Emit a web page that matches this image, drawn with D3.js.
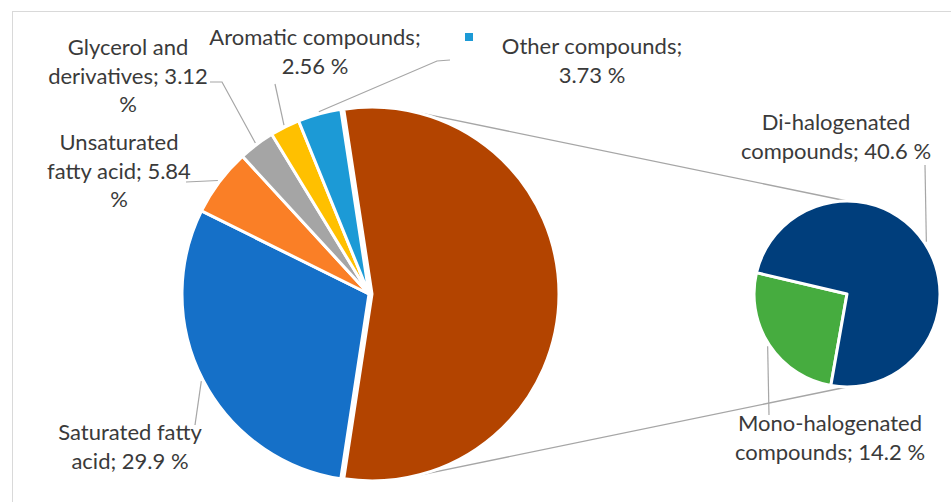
<!DOCTYPE html>
<html>
<head>
<meta charset="utf-8">
<script src="https://cdn.jsdelivr.net/npm/d3@7"></script>
<style>
  html, body { margin: 0; padding: 0; background: #fff; }
  svg { display: block; }
  text { font-family: Lato, "Open Sans", sans-serif; fill: #3A3A3A; }
</style>
</head>
<body>
<svg id="chart" width="951" height="502"></svg>
<script>
// Primary pie: compound classes (percent)
const mainCategories = ["Saturated fatty acid", "Unsaturated fatty acid", "Glycerol and derivatives", "Aromatic compounds", "Other compounds"];
const mainValues = [29.9, 5.84, 3.12, 2.56, 3.73];
const mainColors = ["#1570C8", "#FA7F26", "#A5A5A5", "#FFC000", "#1C9AD6"];

// Secondary pie: breakdown of halogenated compounds (percent)
const subCategories = ["Mono-halogenated compounds", "Di-halogenated compounds"];
const subValues = [14.2, 40.6];
const subColors = ["#46AC3F", "#003E7C"];

const groupColor = "#B34400";

// Words per line for each data label, and where each label sits
const labelLayout = [
  { name: "Saturated fatty acid",       x: 130, y: 440, breaks: [2, 3],    leader: [[195, 425]] },
  { name: "Unsaturated fatty acid",     x: 119, y: 150, breaks: [1, 3, 1], leader: [[186, 182]] },
  { name: "Glycerol and derivatives",   x: 128, y: 55,  breaks: [2, 2, 1], leader: [[222, 82], [210, 82]] },
  { name: "Aromatic compounds",         x: 315, y: 45,  breaks: [2, 2],    leader: [[275, 84]] },
  { name: "Other compounds",            x: 592, y: 54,  breaks: [2, 2],    leader: [[437, 61], [450, 60]], key: true },
  { name: "Mono-halogenated compounds", x: 830, y: 431, breaks: [1, 3],    leader: [[769, 415]] },
  { name: "Di-halogenated compounds",   x: 836, y: 130, breaks: [1, 3],    leader: [[925, 165]] }
];

const svg = d3.select("#chart");
const W = 951, H = 502;

// chart-area frame
svg.append("rect")
  .attr("x", 12.5).attr("y", 11.5)
  .attr("width", W + 10).attr("height", H + 10)
  .attr("fill", "#fff").attr("stroke", "#D9D9D9").attr("stroke-width", 1);

const main = { cx: 369, cy: 294, r: 187 };
const sub  = { cx: 847, cy: 294, r: 93 };
const groupExplode = 3;

const groupValue = d3.sum(subValues);
const total = d3.sum(mainValues) + groupValue;
const groupFrac = groupValue / total;

// The grouped slice is centred on the right-hand side, facing the secondary pie
const mainData = mainCategories.map((c, i) => ({ name: c, value: mainValues[i], color: mainColors[i], group: false }))
  .concat([{ name: "Halogenated compounds", value: groupValue, color: groupColor, group: true }]);
const mainStart = Math.PI / 2 + Math.PI * groupFrac;
const mainArcs = d3.pie().sort(null).value(d => d.value)
  .startAngle(mainStart).endAngle(mainStart + 2 * Math.PI)(mainData);

const subData = subCategories.map((c, i) => ({ name: c, value: subValues[i], color: subColors[i] }));
const subStart = 190 * Math.PI / 180;
const subArcs = d3.pie().sort(null).value(d => d.value)
  .startAngle(subStart).endAngle(subStart + 2 * Math.PI)(subData);

// Series lines: tangents from the top/bottom of the secondary pie to the primary pie
function tangentPoint(px, py, sign) {
  const cx = main.cx + groupExplode;
  const dx = px - cx, dy = py - main.cy;
  const d = Math.hypot(dx, dy);
  const base = Math.atan2(dy, dx);
  const a = base + sign * Math.acos(main.r / d);
  return [cx + main.r * Math.cos(a), main.cy + main.r * Math.sin(a)];
}
const seriesLines = [
  [[sub.cx, sub.cy - sub.r], -1],
  [[sub.cx, sub.cy + sub.r], 1]
];
svg.append("g").selectAll("line").data(seriesLines).join("line")
  .attr("x1", d => tangentPoint(d[0][0], d[0][1], d[1])[0])
  .attr("y1", d => tangentPoint(d[0][0], d[0][1], d[1])[1])
  .attr("x2", d => d[0][0]).attr("y2", d => d[0][1])
  .attr("stroke", "#A6A6A6").attr("stroke-width", 1.3);

const mainArc = d3.arc().innerRadius(0).outerRadius(main.r);
const subArc = d3.arc().innerRadius(0).outerRadius(sub.r);

svg.append("g").attr("transform", `translate(${main.cx},${main.cy})`)
  .selectAll("path").data(mainArcs).join("path")
  .attr("transform", d => {
    if (!d.data.group) return null;
    const m = (d.startAngle + d.endAngle) / 2;
    return `translate(${groupExplode * Math.sin(m)},${-groupExplode * Math.cos(m)})`;
  })
  .attr("d", mainArc).attr("fill", d => d.data.color)
  .attr("stroke", "#fff").attr("stroke-width", 3).attr("stroke-linejoin", "round");

svg.append("g").attr("transform", `translate(${sub.cx},${sub.cy})`)
  .selectAll("path").data(subArcs).join("path")
  .attr("d", subArc).attr("fill", d => d.data.color)
  .attr("stroke", "#fff").attr("stroke-width", 3).attr("stroke-linejoin", "round");

// Edge point of a slice at its mid-angle
function edgePoint(a, c) {
  const m = (a.startAngle + a.endAngle) / 2;
  return [c.cx + (c.r + 2) * Math.sin(m), c.cy - (c.r + 2) * Math.cos(m)];
}
const arcByName = {};
mainArcs.forEach(a => arcByName[a.data.name] = [a, main]);
subArcs.forEach(a => arcByName[a.data.name] = [a, sub]);

const leaderG = svg.append("g");
const labelG = svg.append("g");
const lineH = 28.5;

labelLayout.forEach(L => {
  const [a, c] = arcByName[L.name];
  const pts = [edgePoint(a, c)].concat(L.leader);
  leaderG.append("path")
    .attr("d", d3.line()(pts))
    .attr("fill", "none").attr("stroke", "#A6A6A6").attr("stroke-width", 1.2);

  const words = `${a.data.name}; ${a.data.value} %`.split(" ");
  let k = 0;
  const lines = L.breaks.map(n => { const s = words.slice(k, k + n).join(" "); k += n; return s; });
  const t = labelG.append("text").attr("text-anchor", "middle").attr("font-size", 22);
  lines.forEach((s, i) => t.append("tspan").attr("x", L.x).attr("y", L.y + i * lineH).text(s));

  if (L.key) {
    // legend key shown with this label
    labelG.append("rect")
      .attr("x", 465).attr("y", 33).attr("width", 8).attr("height", 8)
      .attr("fill", a.data.color);
  }
});
</script>
</body>
</html>
